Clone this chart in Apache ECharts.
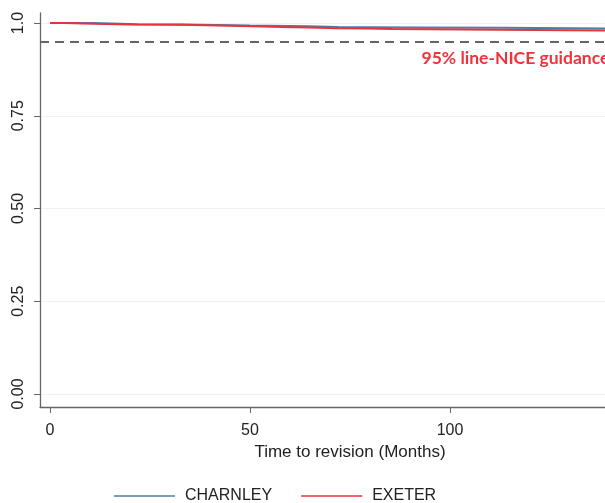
<!DOCTYPE html>
<html>
<head>
<meta charset="utf-8">
<script src="https://cdn.jsdelivr.net/npm/echarts@6/dist/echarts.min.js"></script>
<style>html,body{margin:0;padding:0;background:#fff;overflow:hidden;}#c{width:605px;height:503px;}</style>
</head>
<body>
<div id="c"></div>
<script>
// Kaplan-Meier survival estimates: [months, survival]
const charnley = [[0,1.0],[11,0.997],[22,0.996],[33,0.993],[50,0.991],[64.5,0.989],[72,0.988],[90,0.987],[113,0.985],[145,0.985]];
const exeter = [[0,1.0],[4,0.999],[8,0.998],[11,0.996],[20,0.995],[33,0.992],[48,0.989],[58,0.988],[64.5,0.986],[72,0.985],[79,0.984],[85.5,0.979],[145,0.979]];
const yTicks = [0, 0.25, 0.5, 0.75, 1.0];
const yTickLabels = ['0.00', '0.25', '0.50', '0.75', '1.0'];
const xTicks = [0, 50, 100, 150];
const guideValue = 0.95;
const guideLabel = '95% line-NICE guidance';

const chart = echarts.init(document.getElementById('c'));
chart.setOption({
  animation: false,
  grid: { left: 40, width: 620, top: 13, bottom: 96, outerBoundsMode: 'none', containLabel: false },
  legend: {
    left: 109, top: 483,
    icon: 'rect', itemWidth: 61, itemHeight: 1.5, itemGap: 29,
    textStyle: { fontFamily: 'Liberation Sans, Arial', fontSize: 16, color: '#222', padding: [0, 0, 0, 5] },
    data: ['CHARNLEY', 'EXETER']
  },
  xAxis: {
    type: 'value', min: -2.5, max: 152.5,
    name: 'Time to revision (Months)', nameLocation: 'middle', nameGap: 37,
    nameTextStyle: { fontFamily: 'Liberation Sans, Arial', fontSize: 17, color: '#222' },
    axisLine: { show: true, onZero: false, lineStyle: { color: '#666', width: 1.3 } },
    axisTick: { show: true, length: 6, customValues: xTicks, lineStyle: { color: '#666' } },
    axisLabel: { customValues: xTicks, margin: 16, fontFamily: 'Liberation Sans, Arial', fontSize: 16, color: '#222' },
    splitLine: { show: false }
  },
  yAxis: {
    type: 'value', min: -0.035, max: 1.027,
    axisLine: { show: true, onZero: false, lineStyle: { color: '#666', width: 1.3 } },
    axisTick: { show: true, length: 6, customValues: yTicks, lineStyle: { color: '#666' } },
    axisLabel: {
      customValues: yTicks, rotate: 90, margin: 13,
      fontFamily: 'Liberation Sans, Arial', fontSize: 16, color: '#222',
      formatter: function (v) { const i = yTicks.indexOf(Math.round(v*100)/100); return i >= 0 ? yTickLabels[i] : ''; }
    },
    splitLine: { show: true, lineStyle: { color: '#eef2f2', width: 1 } }
  },
  series: [
    {
      name: 'CHARNLEY', type: 'line', step: 'end', data: charnley, symbol: 'none',
      lineStyle: { color: '#4f7ba6', width: 2 }, itemStyle: { color: '#4f7ba6' }, z: 2
    },
    {
      name: 'EXETER', type: 'line', step: 'end', data: exeter, symbol: 'none',
      lineStyle: { color: '#e8333d', width: 2 }, itemStyle: { color: '#e8333d' }, z: 3,
      markLine: {
        silent: true, symbol: 'none',
        lineStyle: { type: [9, 6], color: '#666', width: 2 },
        label: { show: false },
        data: [{ yAxis: guideValue }]
      },
      markPoint: {
        symbol: 'rect', symbolSize: 1,
        itemStyle: { color: 'rgba(0,0,0,0)' },
        label: {
          show: true, position: 'right', distance: 0, offset: [0, 17],
          fontFamily: 'Lato, Open Sans', fontWeight: 'bold', fontSize: 17.5, color: '#f0323c',
          formatter: guideLabel
        },
        data: [{ coord: [92.75, guideValue] }]
      }
    }
  ]
});
</script>
</body>
</html>
